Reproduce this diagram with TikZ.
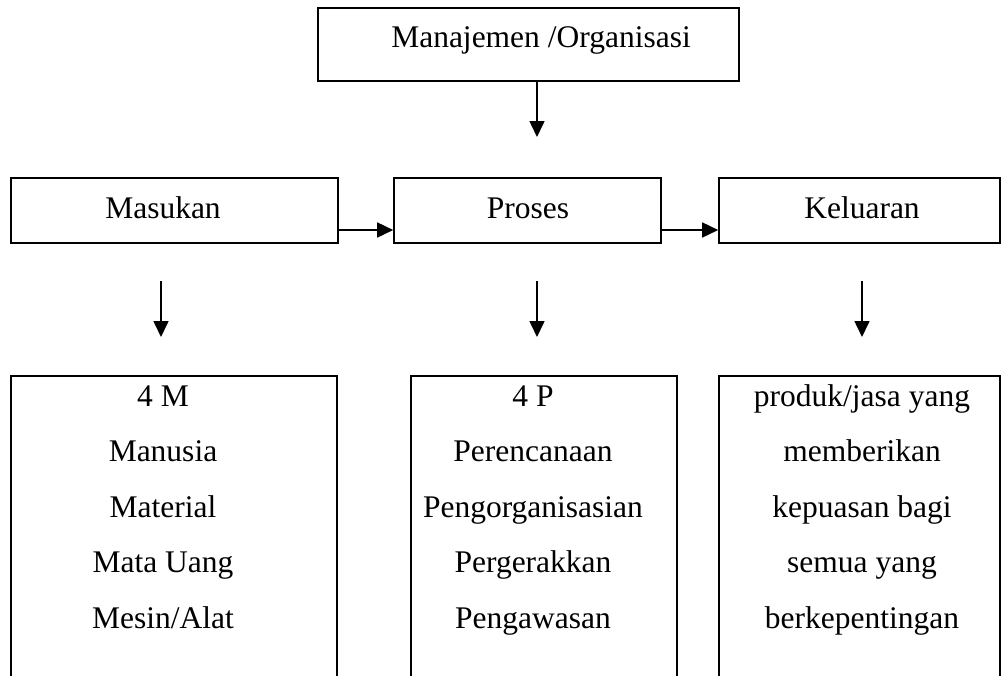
\documentclass[tikz,border=0pt]{standalone}
\usepackage{fontspec}
\setmainfont{Liberation Serif}
\usetikzlibrary{arrows.meta}
\begin{document}
\begin{tikzpicture}[x=1pt,y=-1pt,
  box/.style={draw=black,line width=1.6pt},
  lbl/.style={anchor=base,inner sep=0pt,font=\fontsize{31.5}{38}\selectfont},
  arr/.style={line width=1.6pt,-{Triangle[length=16pt,width=15pt]}}]
\useasboundingbox (0,0) rectangle (1001,675);
% top box
\draw[box] (318,8) rectangle (739,81);
\node[lbl] (top) at (541,47) {Manajemen /Organisasi};
\coordinate (topb) at (537,81);
\coordinate (topa) at (537,137);
\draw[arr] (topb) -- (topa);
% middle boxes
\node[box,minimum width=327pt,minimum height=65pt,inner sep=0pt] (mas) at (174.5,210.5) {};
\node[box,minimum width=267pt,minimum height=65pt,inner sep=0pt] (pro) at (527.5,210.5) {};
\node[box,minimum width=281pt,minimum height=65pt,inner sep=0pt] (kel) at (859.5,210.5) {};
\node[lbl] (tmas) at (163,218) {Masukan};
\node[lbl] (tpro) at (528,218) {Proses};
\node[lbl] (tkel) at (862,218) {Keluaran};
\draw[arr] (mas.east |- 0,230) -- (pro.west |- 0,230);
\draw[arr] (pro.east |- 0,230) -- (kel.west |- 0,230);
% down arrows
\coordinate (a1s) at (161,281); \coordinate (a1e) at (161,337);
\coordinate (a2s) at (537,281); \coordinate (a2e) at (537,337);
\coordinate (a3s) at (862,281); \coordinate (a3e) at (862,337);
\draw[arr] (a1s) -- (a1e);
\draw[arr] (a2s) -- (a2e);
\draw[arr] (a3s) -- (a3e);
% bottom open boxes
\draw[box] (11,676) -- (11,376) -- (337,376) -- (337,676);
\draw[box] (411,676) -- (411,376) -- (677,376) -- (677,676);
\draw[box] (719,676) -- (719,376) -- (1000,376) -- (1000,676);
% bottom texts
\node[lbl] (l0) at (163,406) {4 M};
\node[lbl] (l1) at (163,461.5) {Manusia};
\node[lbl] (l2) at (163,517) {Material};
\node[lbl] (l3) at (163,572.5) {Mata Uang};
\node[lbl] (l4) at (163,628) {Mesin/Alat};
\node[lbl] (c0) at (533,406) {4 P};
\node[lbl] (c1) at (533,461.5) {Perencanaan};
\node[lbl] (c2) at (533,517) {Pengorganisasian};
\node[lbl] (c3) at (533,572.5) {Pergerakkan};
\node[lbl] (c4) at (533,628) {Pengawasan};
\node[lbl] (r0) at (862,406) {produk/jasa yang};
\node[lbl] (r1) at (862,461.5) {memberikan};
\node[lbl] (r2) at (862,517) {kepuasan bagi};
\node[lbl] (r3) at (862,572.5) {semua yang};
\node[lbl] (r4) at (862,628) {berkepentingan};
\end{tikzpicture}
\end{document}
